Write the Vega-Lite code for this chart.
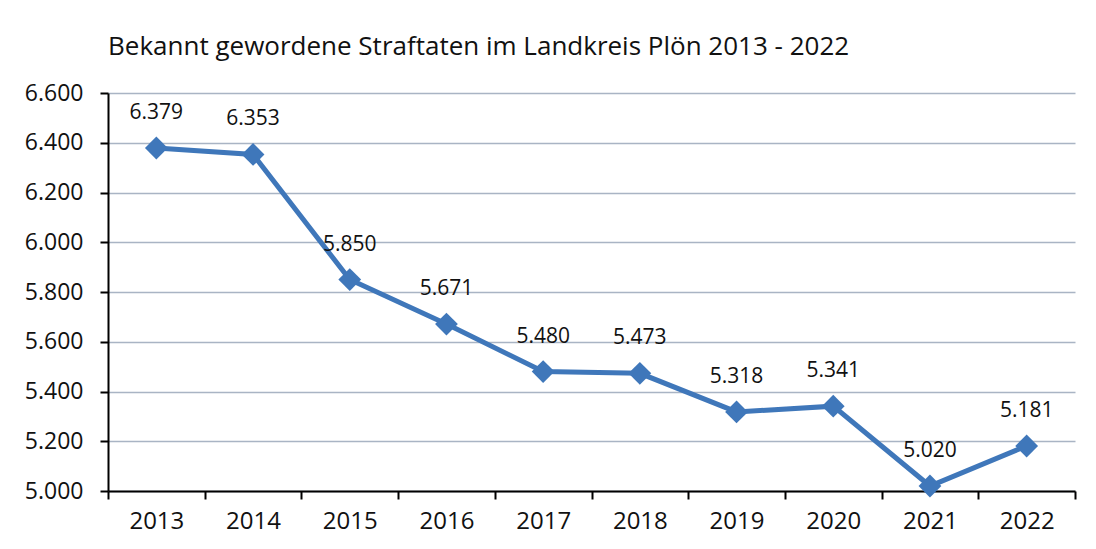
{
  "$schema": "https://vega.github.io/schema/vega-lite/v6.json",
  "autosize": "none",
  "width": 967,
  "height": 398,
  "padding": {"left": 108, "top": 93, "right": 21, "bottom": 58},
  "background": "white",
  "config": {
    "font": "Open Sans",
    "locale": {"number": {"decimal": ",", "thousands": ".", "grouping": [3], "currency": ["", " €"]}},
    "view": {"stroke": null}
  },
  "title": {
    "text": "Bekannt gewordene Straftaten im Landkreis Plön 2013 - 2022",
    "anchor": "start",
    "frame": "group",
    "fontSize": 26,
    "fontWeight": "normal",
    "color": "#111111",
    "offset": 22
  },
  "data": {
    "values": [
      {"Jahr": "2013", "Straftaten": 6379},
      {"Jahr": "2014", "Straftaten": 6353},
      {"Jahr": "2015", "Straftaten": 5850},
      {"Jahr": "2016", "Straftaten": 5671},
      {"Jahr": "2017", "Straftaten": 5480},
      {"Jahr": "2018", "Straftaten": 5473},
      {"Jahr": "2019", "Straftaten": 5318},
      {"Jahr": "2020", "Straftaten": 5341},
      {"Jahr": "2021", "Straftaten": 5020},
      {"Jahr": "2022", "Straftaten": 5181}
    ]
  },
  "encoding": {
    "x": {
      "field": "Jahr",
      "type": "ordinal",
      "scale": {"type": "band", "paddingInner": 0, "paddingOuter": 0},
      "axis": {
        "title": null,
        "labelAngle": 0,
        "labelFontSize": 24,
        "labelColor": "#111111",
        "labelPadding": 10,
        "domainColor": "#000000",
        "domainWidth": 2,
        "tickColor": "#000000",
        "tickWidth": 2,
        "tickSize": 8,
        "tickBand": "extent",
        "grid": false
      }
    },
    "y": {
      "field": "Straftaten",
      "type": "quantitative",
      "scale": {"domain": [5000, 6600], "nice": false, "zero": false},
      "axis": {
        "title": null,
        "values": [5000, 5200, 5400, 5600, 5800, 6000, 6200, 6400, 6600],
        "format": ",.0f",
        "labelFontSize": 23,
        "labelColor": "#111111",
        "labelPadding": 17,
        "domainColor": "#000000",
        "domainWidth": 2,
        "tickColor": "#000000",
        "tickWidth": 2,
        "tickSize": 8,
        "grid": true,
        "gridColor": "#A9B4C4",
        "gridWidth": 1.5
      }
    }
  },
  "layer": [
    {
      "mark": {"type": "line", "color": "#3F77BA", "strokeWidth": 5}
    },
    {
      "mark": {"type": "point", "shape": "diamond", "filled": true, "size": 520, "color": "#3F77BA", "opacity": 1}
    },
    {
      "mark": {"type": "text", "dy": -35, "fontSize": 21, "color": "#111111"},
      "encoding": {"text": {"field": "Straftaten", "type": "quantitative", "format": ",.0f"}}
    }
  ]
}
